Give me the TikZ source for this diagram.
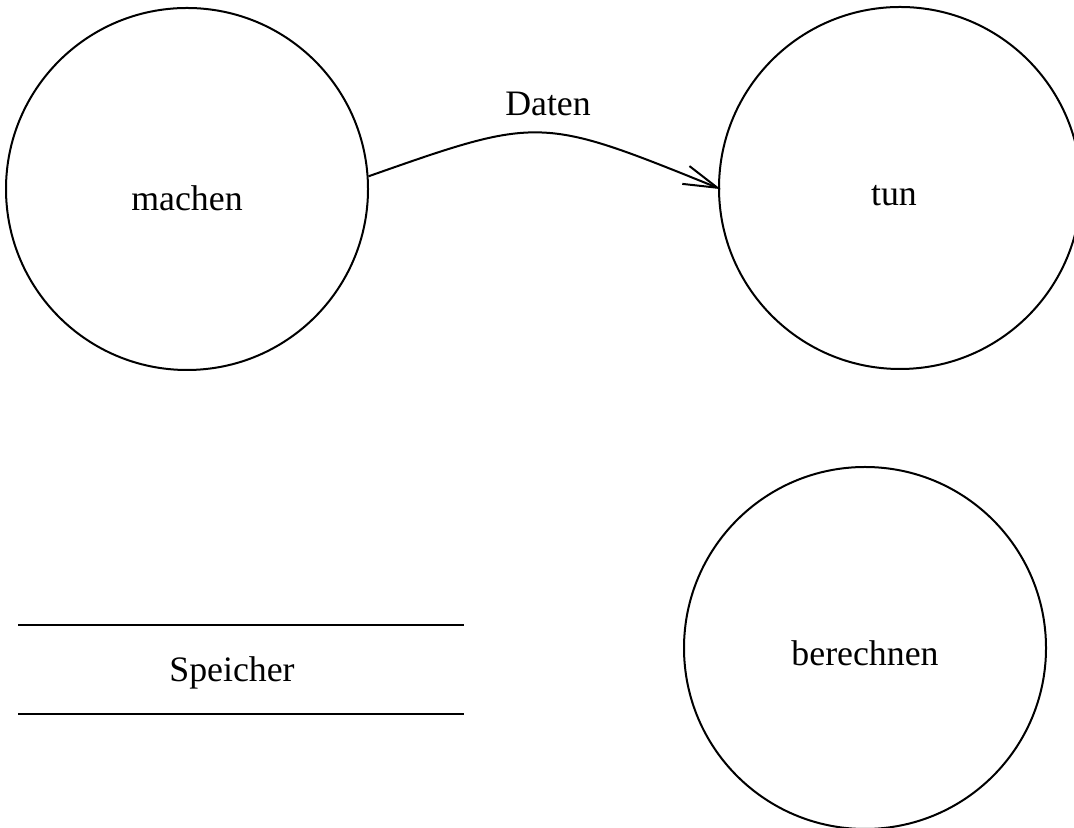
\documentclass[tikz,border=0pt]{standalone}
\usepackage{fontspec}
\setmainfont{Liberation Serif}
\usetikzlibrary{arrows.meta}
\begin{document}
\begin{tikzpicture}[x=0.5pt,y=0.5pt,
  proc/.style={circle,draw,line width=1pt,minimum size=181pt,inner sep=0pt},
  lbl/.style={font=\fontsize{17.9pt}{21pt}\selectfont,inner sep=0pt},
  storeline/.style={line width=1pt},
  flow/.style={line width=1pt,shorten >=-1.5pt,-{Straight Barb[length=17pt,width=9.6pt]}}]
\useasboundingbox (0,0) rectangle (1074,828);
\node[proc,label={[lbl,yshift=-4.5pt]center:machen}] (machen) at (187,639) {};
\node[proc,label={[lbl,xshift=-3pt,yshift=-4pt]center:tun}] (tun) at (900,640) {};
\node[proc,label={[lbl,yshift=-2.5pt]center:berechnen}] (berechnen) at (865,180) {};
\coordinate (s1a) at (18,203);
\coordinate (s1b) at (464,203);
\coordinate (s2a) at (18,114);
\coordinate (s2b) at (464,114);
\draw[storeline] (s1a) -- (s1b);
\draw[storeline] (s2a) -- (s2b);
\node[lbl] (speicher) at (232,155) {Speicher};
\draw[flow] (machen.4) .. controls (540,712) .. (tun.180);
\node[lbl] (daten) at (548,724) {Daten};
\end{tikzpicture}
\end{document}
